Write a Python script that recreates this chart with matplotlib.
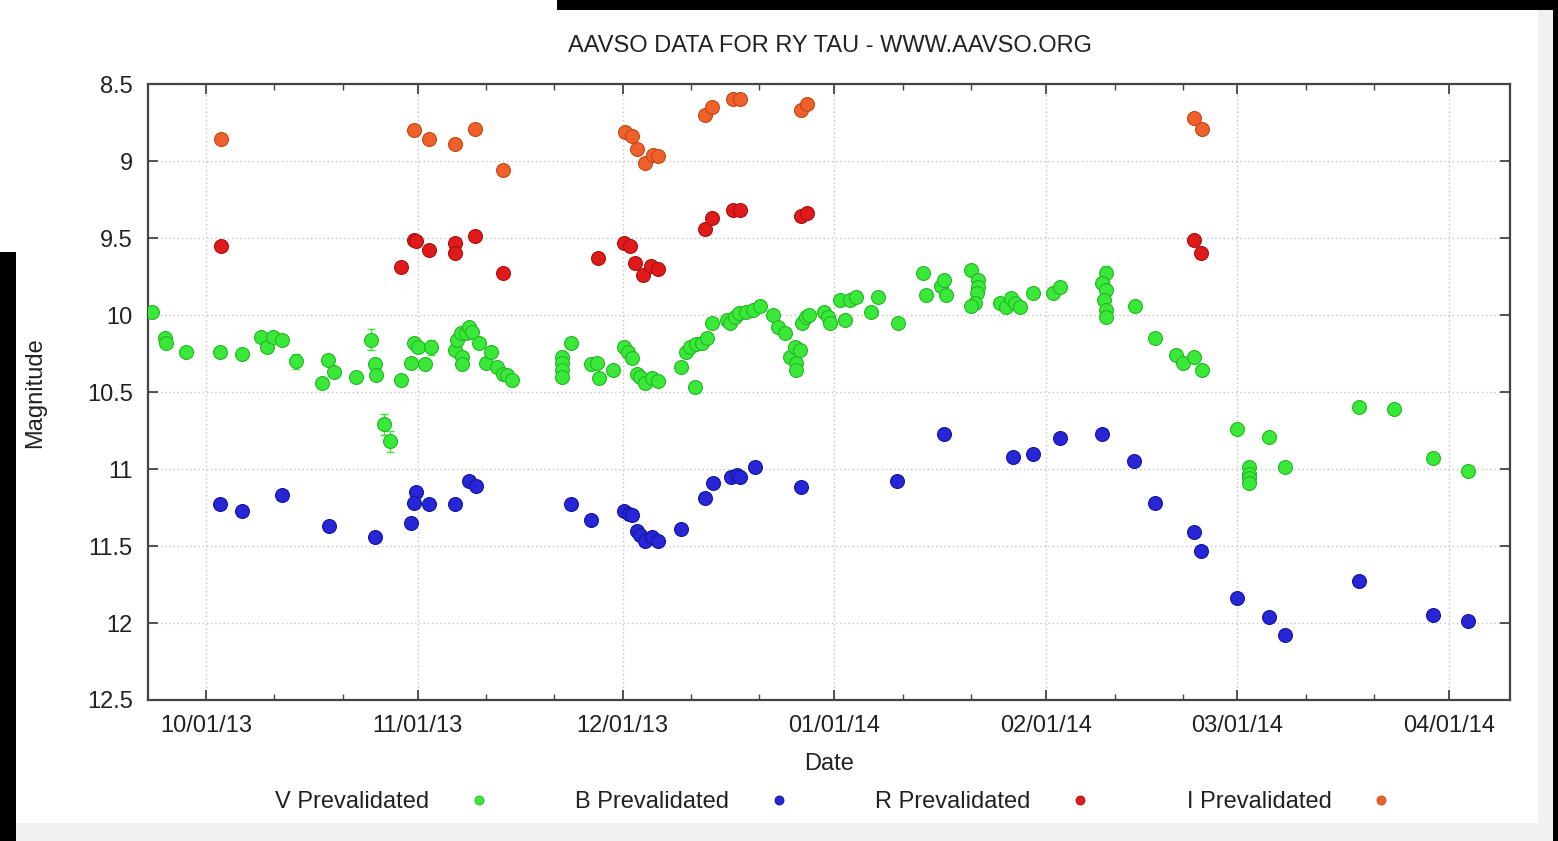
import numpy as np
import matplotlib
matplotlib.use("Agg")
import matplotlib.pyplot as plt
import matplotlib.dates as mdates
from matplotlib.lines import Line2D
from matplotlib.patches import Rectangle
from matplotlib.ticker import FuncFormatter
from datetime import datetime

plt.rcParams['font.family'] = ['Liberation Sans', 'DejaVu Sans']

# ---------------- data (days after 2013-10-01, magnitude) ----------------
START = datetime(2013, 10, 1)

V_day = [-7.9, -6.0, -5.8, -2.9, 2.1, 5.2, 8.0, 8.9, 9.8, 11.1, 13.2, 17.0, 17.8, 18.8, 21.9,
         24.2, 24.7, 24.9, 26.0, 27.0, 28.5, 30.0, 30.5, 31.0, 32.0, 33.0,
         36.4, 36.8, 37.3, 37.5, 37.5, 38.0, 38.5, 39.0, 40.0, 41.0, 41.7, 42.6, 43.4, 44.0, 44.8,
         52.1, 52.1, 52.1, 52.1, 53.4, 56.3, 57.2, 57.5, 59.6,
         61.2, 61.7, 62.4, 63.1, 63.6, 64.2, 65.3, 66.1, 69.6, 71.6, 70.2, 70.9, 71.8, 72.6, 73.3,
         74.0, 76.2, 76.7, 77.5, 78.0, 79.1, 80.1, 81.1, 83.0, 83.7, 84.8, 85.5, 86.2, 86.4, 87.0,
         86.4, 87.2, 87.9, 88.2,
         90.4, 91.1, 91.3, 92.8, 93.5, 94.3, 95.2, 97.4, 98.4, 101.3, 105.0, 105.4, 107.6, 108.1,
         108.3, 112.0, 113.0, 113.0, 112.8, 112.6, 112.0, 116.3, 117.1, 117.9, 118.4, 119.2, 121.0,
         124.0, 125.0,
         131.7, 131.2, 131.7, 131.4, 131.7, 131.7, 136.0, 139.0, 142.0, 143.0, 144.7, 145.8,
         151.0, 152.7, 152.7, 152.7, 152.7, 155.6, 158.0, 168.8, 173.9, 179.7, 184.8]
V_mag = [9.98, 10.15, 10.18, 10.24, 10.24, 10.25, 10.14, 10.21, 10.14, 10.16, 10.30, 10.44, 10.29, 10.37, 10.40,
         10.16, 10.32, 10.39, 10.71, 10.82, 10.42, 10.31, 10.18, 10.21, 10.32, 10.21,
         10.23, 10.16, 10.12, 10.27, 10.32, 10.12, 10.08, 10.11, 10.18, 10.31, 10.24, 10.34, 10.38, 10.39, 10.42,
         10.27, 10.31, 10.36, 10.40, 10.18, 10.32, 10.31, 10.41, 10.36,
         10.21, 10.24, 10.28, 10.38, 10.40, 10.44, 10.41, 10.43, 10.34, 10.47, 10.24, 10.21, 10.19, 10.18, 10.15,
         10.05, 10.03, 10.05, 10.01, 9.99, 9.98, 9.97, 9.94, 10.00, 10.08, 10.12, 10.27, 10.21, 10.31, 10.23,
         10.36, 10.05, 10.01, 10.00,
         9.98, 10.01, 10.05, 9.90, 10.03, 9.90, 9.88, 9.98, 9.88, 10.05, 9.73, 9.87, 9.81, 9.77,
         9.87, 9.71, 9.77, 9.82, 9.86, 9.92, 9.94, 9.92, 9.95, 9.89, 9.92, 9.95, 9.86,
         9.86, 9.82,
         9.73, 9.79, 9.84, 9.90, 9.97, 10.01, 9.94, 10.15, 10.26, 10.31, 10.27, 10.36,
         10.74, 10.99, 11.03, 11.06, 11.09, 10.79, 10.99, 10.60, 10.61, 10.93, 11.01]

# V points with visible error bars
Verr_day = [13.2, 24.2, 26.0, 27.0, 33.0, 131.7, 152.7]
Verr_mag = [10.30, 10.16, 10.71, 10.82, 10.21, 9.73, 11.06]
Verr_sig = [0.05, 0.07, 0.07, 0.07, 0.05, 0.05, 0.05]

B_day = [2.1, 5.2, 11.1, 18.0, 24.8, 30.0, 30.7, 30.5, 32.6, 36.5, 38.5, 39.5,
         53.5, 56.3, 61.2, 61.9, 62.3, 63.1, 63.6, 64.2, 65.3, 66.1, 69.6, 73.1, 74.2,
         76.9, 77.8, 78.2, 80.4, 87.1, 101.2, 108.1,
         118.1, 121.1, 125.0, 131.2, 135.9, 139.0, 144.6, 145.7, 150.9, 155.6, 158.0,
         168.8, 179.7, 184.8]
B_mag = [11.23, 11.27, 11.17, 11.37, 11.44, 11.35, 11.15, 11.22, 11.23, 11.23, 11.08, 11.11,
         11.23, 11.33, 11.27, 11.29, 11.30, 11.40, 11.43, 11.47, 11.44, 11.47, 11.39, 11.19, 11.09,
         11.05, 11.04, 11.05, 10.99, 11.12, 11.08, 10.77,
         10.92, 10.90, 10.80, 10.77, 10.95, 11.22, 11.41, 11.53, 11.84, 11.96, 12.08,
         11.73, 11.95, 11.99]

R_day = [2.2, 28.6, 30.5, 30.8, 32.6, 36.4, 36.4, 39.4, 43.5, 57.4, 61.2, 62.0, 62.8, 64.0,
         65.2, 66.1, 73.1, 74.0, 77.2, 78.2, 87.1, 88.0, 144.6, 145.7]
R_mag = [9.55, 9.69, 9.51, 9.52, 9.58, 9.53, 9.60, 9.49, 9.73, 9.63, 9.53, 9.55, 9.66, 9.74,
         9.68, 9.70, 9.44, 9.37, 9.32, 9.32, 9.36, 9.34, 9.51, 9.60]

I_day = [2.2, 30.5, 32.6, 36.4, 39.4, 43.5, 61.3, 62.3, 63.1, 64.2, 65.5, 66.2, 73.1, 74.0,
         77.2, 78.2, 87.1, 88.0, 144.7, 145.8]
I_mag = [8.86, 8.80, 8.86, 8.89, 8.79, 9.06, 8.81, 8.84, 8.92, 9.01, 8.96, 8.97, 8.70, 8.65,
         8.60, 8.60, 8.67, 8.63, 8.72, 8.79]

series_keys = ['V', 'B', 'R', 'I']
series_labels = ['V Prevalidated', 'B Prevalidated', 'R Prevalidated', 'I Prevalidated']
y_ticks = [8.5, 9, 9.5, 10, 10.5, 11, 11.5, 12, 12.5]
title = 'AAVSO DATA FOR RY TAU - WWW.AAVSO.ORG'

# ---------------- styles ----------------
colors = {'V': '#3ae83a', 'B': '#2626d6', 'R': '#e01a1a', 'I': '#f0602a'}
edges = {'V': '#22b822', 'B': '#1616a0', 'R': '#a81010', 'I': '#c04818'}
TXT = '#222222'
FS = 17

W, H = 1558, 841
fig = plt.figure(figsize=(W / 100, H / 100), dpi=100)
fig.patch.set_facecolor('white')

# photo borders
for (x0, y0, x1, y1, c) in [(0, 252, 16, 841, 'black'), (557, 0, 1558, 10, 'black'),
                            (1553, 0, 1558, 841, 'black'), (1538, 10, 1553, 841, '#f1f1f1'),
                            (16, 823, 1538, 841, '#f1f1f1')]:
    fig.patches.append(Rectangle((x0 / W, 1 - y1 / H), (x1 - x0) / W, (y1 - y0) / H,
                                 transform=fig.transFigure, facecolor=c, edgecolor='none', zorder=0))

ax = fig.add_axes([148 / W, 1 - 700 / H, (1510 - 148) / W, (700 - 84) / H])

base = mdates.date2num(START)


def to_x(days):
    return base + np.asarray(days, dtype=float)


ax.errorbar(to_x(Verr_day), Verr_mag, yerr=Verr_sig, fmt='none', ecolor=colors['V'],
            elinewidth=1.0, capsize=3, zorder=2)

for key, d, m in [('V', V_day, V_mag), ('B', B_day, B_mag), ('R', R_day, R_mag), ('I', I_day, I_mag)]:
    ax.plot(to_x(d), m, linestyle='none', marker='o', ms=10, mfc=colors[key],
            mec=edges[key], mew=0.8, zorder=3)

ax.set_xlim(base - 8.5, base + 190.9)
ax.set_ylim(12.5, 8.5)
ax.set_yticks(y_ticks)
ax.yaxis.set_major_formatter(FuncFormatter(lambda v, p: '%g' % v))
ax.xaxis.set_major_locator(mdates.MonthLocator())
ax.xaxis.set_major_formatter(mdates.DateFormatter('%m/%d/%y'))
ax.xaxis.set_minor_locator(mdates.DayLocator(bymonthday=[11, 21]))

ax.grid(True, which='major', color='#c4c4c4', linestyle=(0, (1, 2)), linewidth=1.0)
ax.set_axisbelow(True)

for s in ax.spines.values():
    s.set_color('#444444')
    s.set_linewidth(1.6)

ax.tick_params(axis='both', which='major', direction='in', length=7, width=1.3,
               colors='#444444', labelcolor=TXT, labelsize=FS, top=True, right=True)
ax.tick_params(axis='x', which='major', pad=11)
ax.tick_params(axis='y', which='major', pad=11)
ax.tick_params(axis='x', which='minor', direction='in', length=4, width=1.0,
               colors='#444444', top=True)

ax.set_xlabel('Date', fontsize=FS, color=TXT, labelpad=11)
fig.text(35 / W, 1 - 393 / H, 'Magnitude', rotation=90, ha='center', va='center',
         fontsize=FS, color=TXT)
fig.text(830 / W, 1 - 46 / H, title, ha='center', va='center', fontsize=FS, color=TXT)

# legend: one fixed-width entry per series, like the gnuplot key
legend_left_px = [275, 575, 875, 1187]
for k, lab, xl in zip(series_keys, series_labels, legend_left_px):
    h = Line2D([], [], linestyle='none', marker='o', ms=6.5, mfc=colors[k], mec=edges[k], mew=0.6)
    leg = fig.legend([h], [lab], loc='center left', bbox_to_anchor=(xl / W, 1 - 802 / H),
                     bbox_transform=fig.transFigure, frameon=False, markerfirst=False,
                     fontsize=FS, handlelength=2.0, handletextpad=1.1,
                     borderpad=0, borderaxespad=0, labelcolor=TXT)

fig.savefig('out.png', dpi=100, facecolor=fig.get_facecolor())
